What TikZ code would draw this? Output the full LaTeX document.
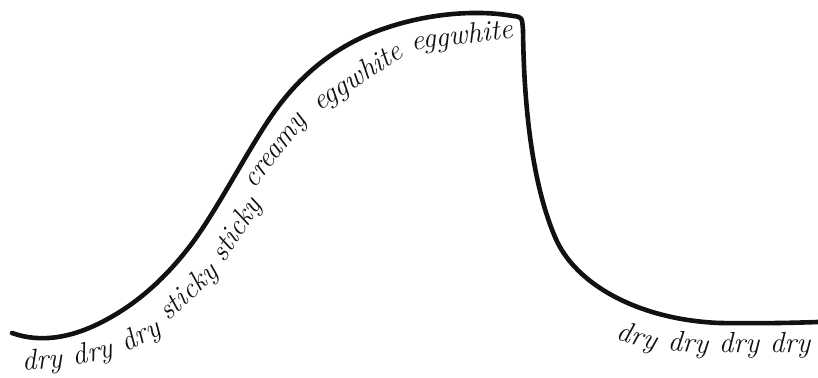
\documentclass[tikz,border=0pt]{standalone}
\usepackage{tikz}
\definecolor{GelInk}{HTML}{111111}

\begin{document}
\begin{tikzpicture}[x=1pt,y=-1pt,
  gelcurve/.style={draw=GelInk,line width=4.6pt,line cap=round,line join=round},
  gelword/.style={text=GelInk,inner sep=0pt,font=\fontsize{29}{33}\selectfont\itshape}]
\path[use as bounding box] (0,0) rectangle (818,377);
\draw[gelcurve] (12,333) .. controls (40,343) and (70,338) .. (100,323)
  .. controls (130,308) and (160,285) .. (190,246)
  .. controls (215,213.5) and (245,155) .. (270,118)
  .. controls (295,81) and (330,48) .. (380,30)
  .. controls (430,12) and (480,10) .. (513,16)
  .. controls (522,17) .. (523,30)
  .. controls (524,120) and (535,190) .. (555,237)
  .. controls (575,285) and (640,320) .. (720,323)
  .. controls (760,323.5) and (790,323) .. (818,322);
\node[gelword,rotate=5] (dryA) at (42,362) {dry};
\node[gelword,rotate=13] (dryB) at (93,354) {dry};
\node[gelword,rotate=29] (dryC) at (141,337) {dry};
\node[gelword,rotate=43] (stickyA) at (189,293) {sticky};
\node[gelword,rotate=57] (stickyB) at (237,230) {sticky};
\node[gelword,rotate=52] (creamy) at (278,153) {creamy};
\node[gelword,rotate=33] (eggA) at (358,78) {eggwhite};
\node[gelword,rotate=7] (eggB) at (462,37) {eggwhite};
\node[gelword,rotate=-15] (dryD) at (637,338) {dry};
\node[gelword,rotate=-4] (dryE) at (688,345) {dry};
\node[gelword] (dryF) at (739,345) {dry};
\node[gelword] (dryG) at (790,345) {dry};
\end{tikzpicture}
\end{document}
